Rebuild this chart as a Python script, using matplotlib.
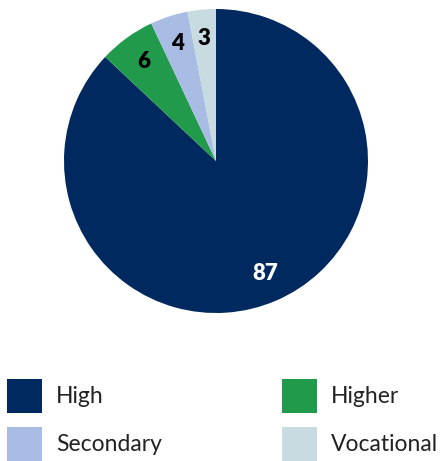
import matplotlib.pyplot as plt
from matplotlib.patches import Patch

categories = ["High", "Higher", "Secondary", "Vocational"]
values = [87, 6, 4, 3]
colors = ["#00295f", "#229a4b", "#a9bce3", "#c7dbe1"]
label_colors = ["white", "black", "black", "black"]

fig = plt.figure(figsize=(4.4, 4.61), dpi=100)
ax = fig.add_axes([64 / 440, 1 - 313 / 461, 304 / 440, 304 / 461])

wedges, texts = ax.pie(values, colors=colors, startangle=90, counterclock=False,
                       labels=[str(v) for v in values], labeldistance=0.81,
                       wedgeprops=dict(linewidth=0))
for t, c in zip(texts, label_colors):
    t.set_color(c)
    t.set_fontsize(16)
    t.set_fontweight("heavy")
    t.set_fontfamily("Lato")
    t.set_ha("center")
    t.set_va("center")
ax.set_xlim(-1, 1)
ax.set_ylim(-1, 1)
ax.set_aspect("equal")

# legend fills column-wise, so reorder to get High/Higher on the first row
order = [0, 2, 1, 3]
handles = [Patch(facecolor=colors[i], edgecolor="none") for i in order]
names = [categories[i] for i in order]
fig.legend(handles, names, loc="upper left", bbox_to_anchor=(0.0, 1 - 372 / 461),
           ncol=2, frameon=False, prop=dict(family="Lato", size=16.5),
           labelcolor="#222222",
           handlelength=1.52, handleheight=1.9, handletextpad=0.62,
           columnspacing=5.25, labelspacing=0.62, borderaxespad=0, borderpad=0.3)

fig.savefig("out.png", dpi=100)
